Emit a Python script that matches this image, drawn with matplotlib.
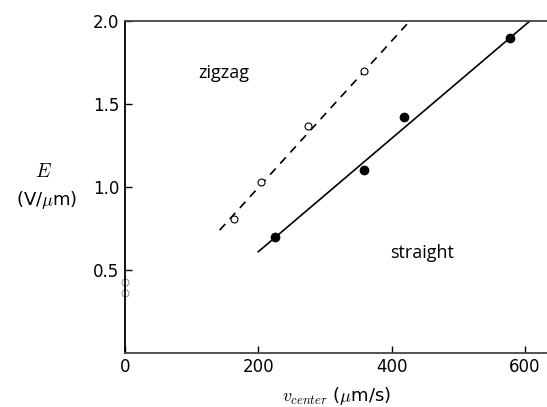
import matplotlib
matplotlib.use("Agg")
from matplotlib import pyplot as plt

plt.rcParams["mathtext.fontset"] = "cm"

# straight (filled) and zigzag (open) measurements
straight_v = [225, 358, 418, 577]
straight_E = [0.70, 1.10, 1.42, 1.90]
zigzag_v = [163, 204, 274, 358]
zigzag_E = [0.81, 1.03, 1.37, 1.70]
# faint open points at v = 0
zero_v = [0, 0]
zero_E = [0.43, 0.36]

# fitted lines (end points)
straight_fit_v = [200, 607]
straight_fit_E = [0.61, 2.0]
zigzag_fit_v = [142, 427]
zigzag_fit_E = [0.74, 2.0]

xticks = [0, 200, 400, 600]
yticks = [0.5, 1.0, 1.5, 2.0]

fig = plt.figure(figsize=(5.47, 4.07), dpi=100)
ax = fig.add_axes([0.2285, 0.133, 0.7715, 0.815])

ax.plot(straight_fit_v, straight_fit_E, color="black", lw=1.2)
ax.plot(zigzag_fit_v, zigzag_fit_E, color="black", lw=1.2, ls=(0, (5, 4)))
ax.plot(straight_v, straight_E, "o", color="black", ms=6)
ax.plot(zigzag_v, zigzag_E, "o", mfc="white", mec="black", mew=0.8, ms=5)
ax.plot(zero_v, zero_E, "o", mfc="white", mec="#999999", mew=0.8, ms=5, clip_on=False)

ax.text(148, 1.69, "zigzag", fontsize=13, family="Open Sans", ha="center", va="center")
ax.text(445, 0.60, "straight", fontsize=13, family="Open Sans", ha="center", va="center")

ax.set_xlim(0, 633)
ax.set_ylim(0, 2.0)
ax.set_xticks(xticks)
ax.set_yticks(yticks)
ax.set_xticklabels([str(t) for t in xticks])
ax.set_yticklabels(["%.1f" % t for t in yticks])
ax.tick_params(direction="in", length=5, width=1, labelsize=12, pad=4)
ax.spines["right"].set_visible(False)
for s in ["left", "bottom", "top"]:
    ax.spines[s].set_linewidth(1.3)
ax.spines["left"].set_color("black")
ax.spines["bottom"].set_color("#444444")
ax.spines["top"].set_color("#444444")

ax.set_xlabel(r"$v_{center}$ (" + r"$\mu$" + "m/s)", fontsize=13, labelpad=6)
fig.text(0.079, 0.578, r"$E$", fontsize=14, ha="center", va="center")
fig.text(0.086, 0.508, r"(V/$\mu$m)", fontsize=13, ha="center", va="center")

fig.savefig("out.png", dpi=100)
